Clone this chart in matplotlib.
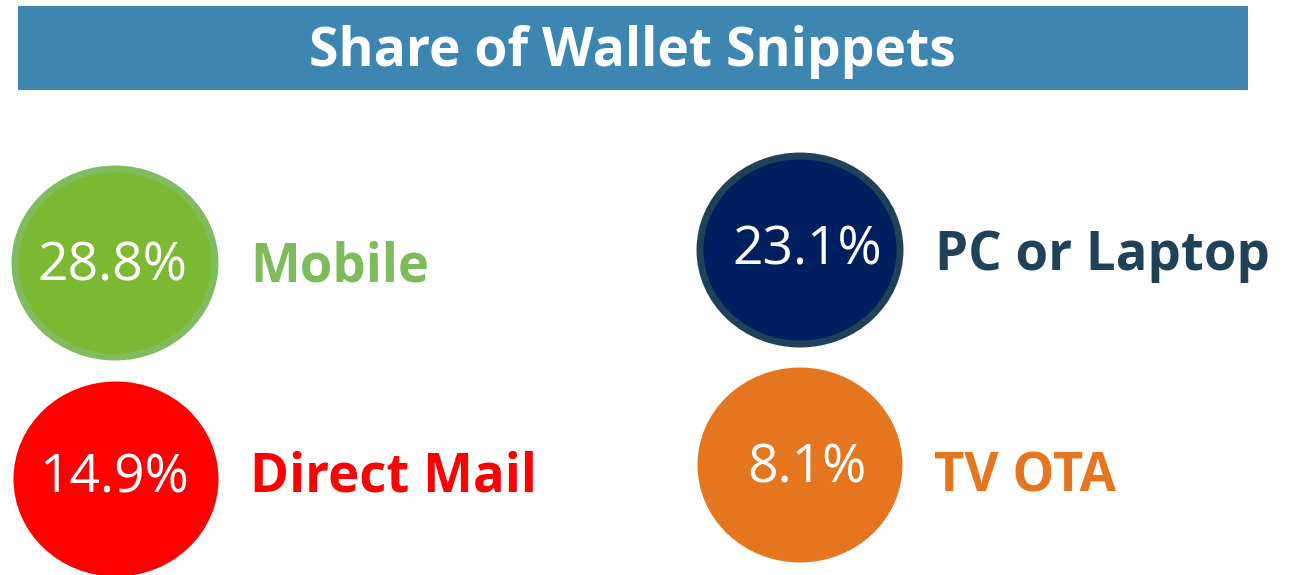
import matplotlib.pyplot as plt
from matplotlib.patches import Ellipse, Rectangle

title = "Share of Wallet Snippets"
channels = ["Mobile", "PC or Laptop", "Direct Mail", "TV OTA"]
shares = [28.8, 23.1, 14.9, 8.1]

fill_colors = ["#7cb932", "#001f5f", "#ff0000", "#e5751f"]
edge_colors = ["#80bb5e", "#1f4259", "#ff0000", "#e5751f"]
label_colors = ["#7dbb5b", "#1f4259", "#ff0000", "#e5751f"]

# layout in pixel coords (x, y of circle centre)
centers = [(115, 263), (800, 250), (116, 479), (800, 465)]
sizes = [(200, 188), (200, 188), (205, 195), (205, 195)]
pct_offset = [(-3, 4), (7, 1), (-2, 0), (7, 4)]
label_x = [250, 935, 250, 934]
label_dy = [4, 6, -2, 12]

plt.rcParams['font.family'] = ['Open Sans', 'DejaVu Sans']

fig = plt.figure(figsize=(12.96, 5.75), dpi=100)
ax = fig.add_axes([0, 0, 1, 1])
ax.set_xlim(0, 1296)
ax.set_ylim(575, 0)
ax.axis("off")

ax.add_patch(Rectangle((18, 6), 1230, 84, facecolor="#3c86b1", edgecolor="none"))
ax.text(632, 52, title, color="white", fontsize=38.5, fontweight="bold",
        ha="center", va="center")

for i, name in enumerate(channels):
    cx, cy = centers[i]
    w, h = sizes[i]
    lw = 5 if i < 2 else 0
    ax.add_patch(Ellipse((cx, cy), w, h, facecolor=fill_colors[i],
                         edgecolor=edge_colors[i], linewidth=lw))
    ax.text(cx + pct_offset[i][0], cy + pct_offset[i][1], f"{shares[i]}%",
            color="white", fontsize=38.5, ha="center", va="center")
    ax.text(label_x[i], cy + label_dy[i], name, color=label_colors[i],
            fontsize=38, fontweight="bold", ha="left", va="center")

fig.savefig("out.png", dpi=100)
